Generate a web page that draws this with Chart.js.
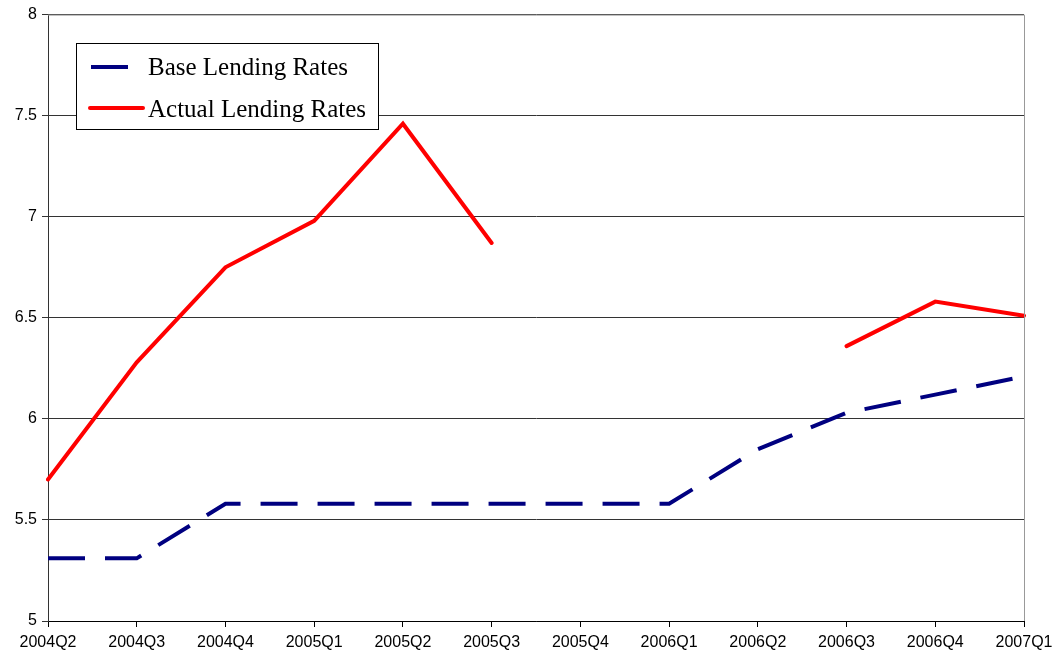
<!DOCTYPE html>
<html>
<head>
<meta charset="utf-8">
<script src="https://cdn.jsdelivr.net/npm/chart.js@4/dist/chart.umd.min.js"></script>
<style>
  html, body { margin: 0; padding: 0; background: #fff; }
  #wrap { width: 1059px; height: 658px; }
</style>
</head>
<body>
<div id="wrap"><canvas id="chart" width="1059" height="658"></canvas></div>
<script>
const quarters = ["2004Q2", "2004Q3", "2004Q4", "2005Q1", "2005Q2", "2005Q3",
  "2005Q4", "2006Q1", "2006Q2", "2006Q3", "2006Q4", "2007Q1"];
const baseRates = [5.31, 5.31, 5.58, 5.58, 5.58, 5.58, 5.58, 5.58, 5.85, 6.03, 6.12, 6.21];
const actualRates = [5.70, 6.28, 6.75, 6.98, 7.46, 6.87, null, null, null, 6.36, 6.58, 6.51];
const seriesNames = ["Base Lending Rates", "Actual Lending Rates"];

// frame + legend box drawn inside the plot area
const frameAndLegend = {
  id: "frameAndLegend",
  afterDraw(chart) {
    const ctx = chart.ctx;
    const a = chart.chartArea;
    ctx.save();
    ctx.strokeStyle = "#999";
    ctx.lineWidth = 1;
    ctx.beginPath();
    ctx.moveTo(a.left, a.top + 0.5);
    ctx.lineTo(a.right + 0.5, a.top + 0.5);
    ctx.lineTo(a.right + 0.5, a.bottom);
    ctx.stroke();

    // legend
    const bx = 76, by = 43, bw = 302, bh = 86;
    ctx.fillStyle = "#fff";
    ctx.fillRect(bx, by, bw, bh);
    ctx.strokeStyle = "#000";
    ctx.strokeRect(bx + 0.5, by + 0.5, bw, bh);

    ctx.lineWidth = 4;
    ctx.strokeStyle = "#000080";
    ctx.beginPath();
    ctx.moveTo(91, 67);
    ctx.lineTo(128, 67);
    ctx.stroke();
    ctx.strokeStyle = "#ff0000";
    ctx.lineCap = "round";
    ctx.beginPath();
    ctx.moveTo(90, 108);
    ctx.lineTo(143, 108);
    ctx.stroke();

    ctx.fillStyle = "#000";
    ctx.font = "25px 'Liberation Serif', 'Times New Roman', serif";
    ctx.textBaseline = "middle";
    ctx.fillText(seriesNames[0], 148, 68);
    ctx.fillText(seriesNames[1], 148, 110);
    ctx.restore();
  }
};

const tickFont = { family: "'Liberation Sans', Arial, sans-serif", size: 16 };

new Chart(document.getElementById("chart").getContext("2d"), {
  type: "line",
  data: {
    labels: quarters,
    datasets: [
      {
        label: seriesNames[0],
        data: baseRates,
        borderColor: "#000080",
        borderWidth: 4,
        borderDash: [37, 20],
        pointRadius: 0,
        tension: 0,
        fill: false
      },
      {
        label: seriesNames[1],
        data: actualRates,
        borderColor: "#ff0000",
        borderWidth: 4,
        borderCapStyle: "round",
        pointRadius: 0,
        tension: 0,
        spanGaps: false,
        fill: false
      }
    ]
  },
  options: {
    responsive: false,
    animation: false,
    layout: { padding: { top: 12, right: 35, left: 0, bottom: 0 } },
    plugins: {
      legend: { display: false },
      tooltip: { enabled: false }
    },
    scales: {
      x: {
        offset: false,
        grid: { drawOnChartArea: false, drawTicks: true, tickLength: 6, color: "#000" },
        border: { color: "#000", width: 1 },
        ticks: { color: "#000", font: tickFont, maxRotation: 0, autoSkip: false, padding: 6 },
        afterFit(s) { s.height = 37; }
      },
      y: {
        min: 5,
        max: 8,
        grid: { color: "#333", tickLength: 6 },
        border: { color: "#333", width: 1 },
        ticks: {
          stepSize: 0.5, color: "#000", font: tickFont, padding: 5,
          callback: v => String(v)
        },
        afterFit(s) { s.width = 48; }
      }
    }
  },
  plugins: [frameAndLegend]
});
</script>
</body>
</html>
